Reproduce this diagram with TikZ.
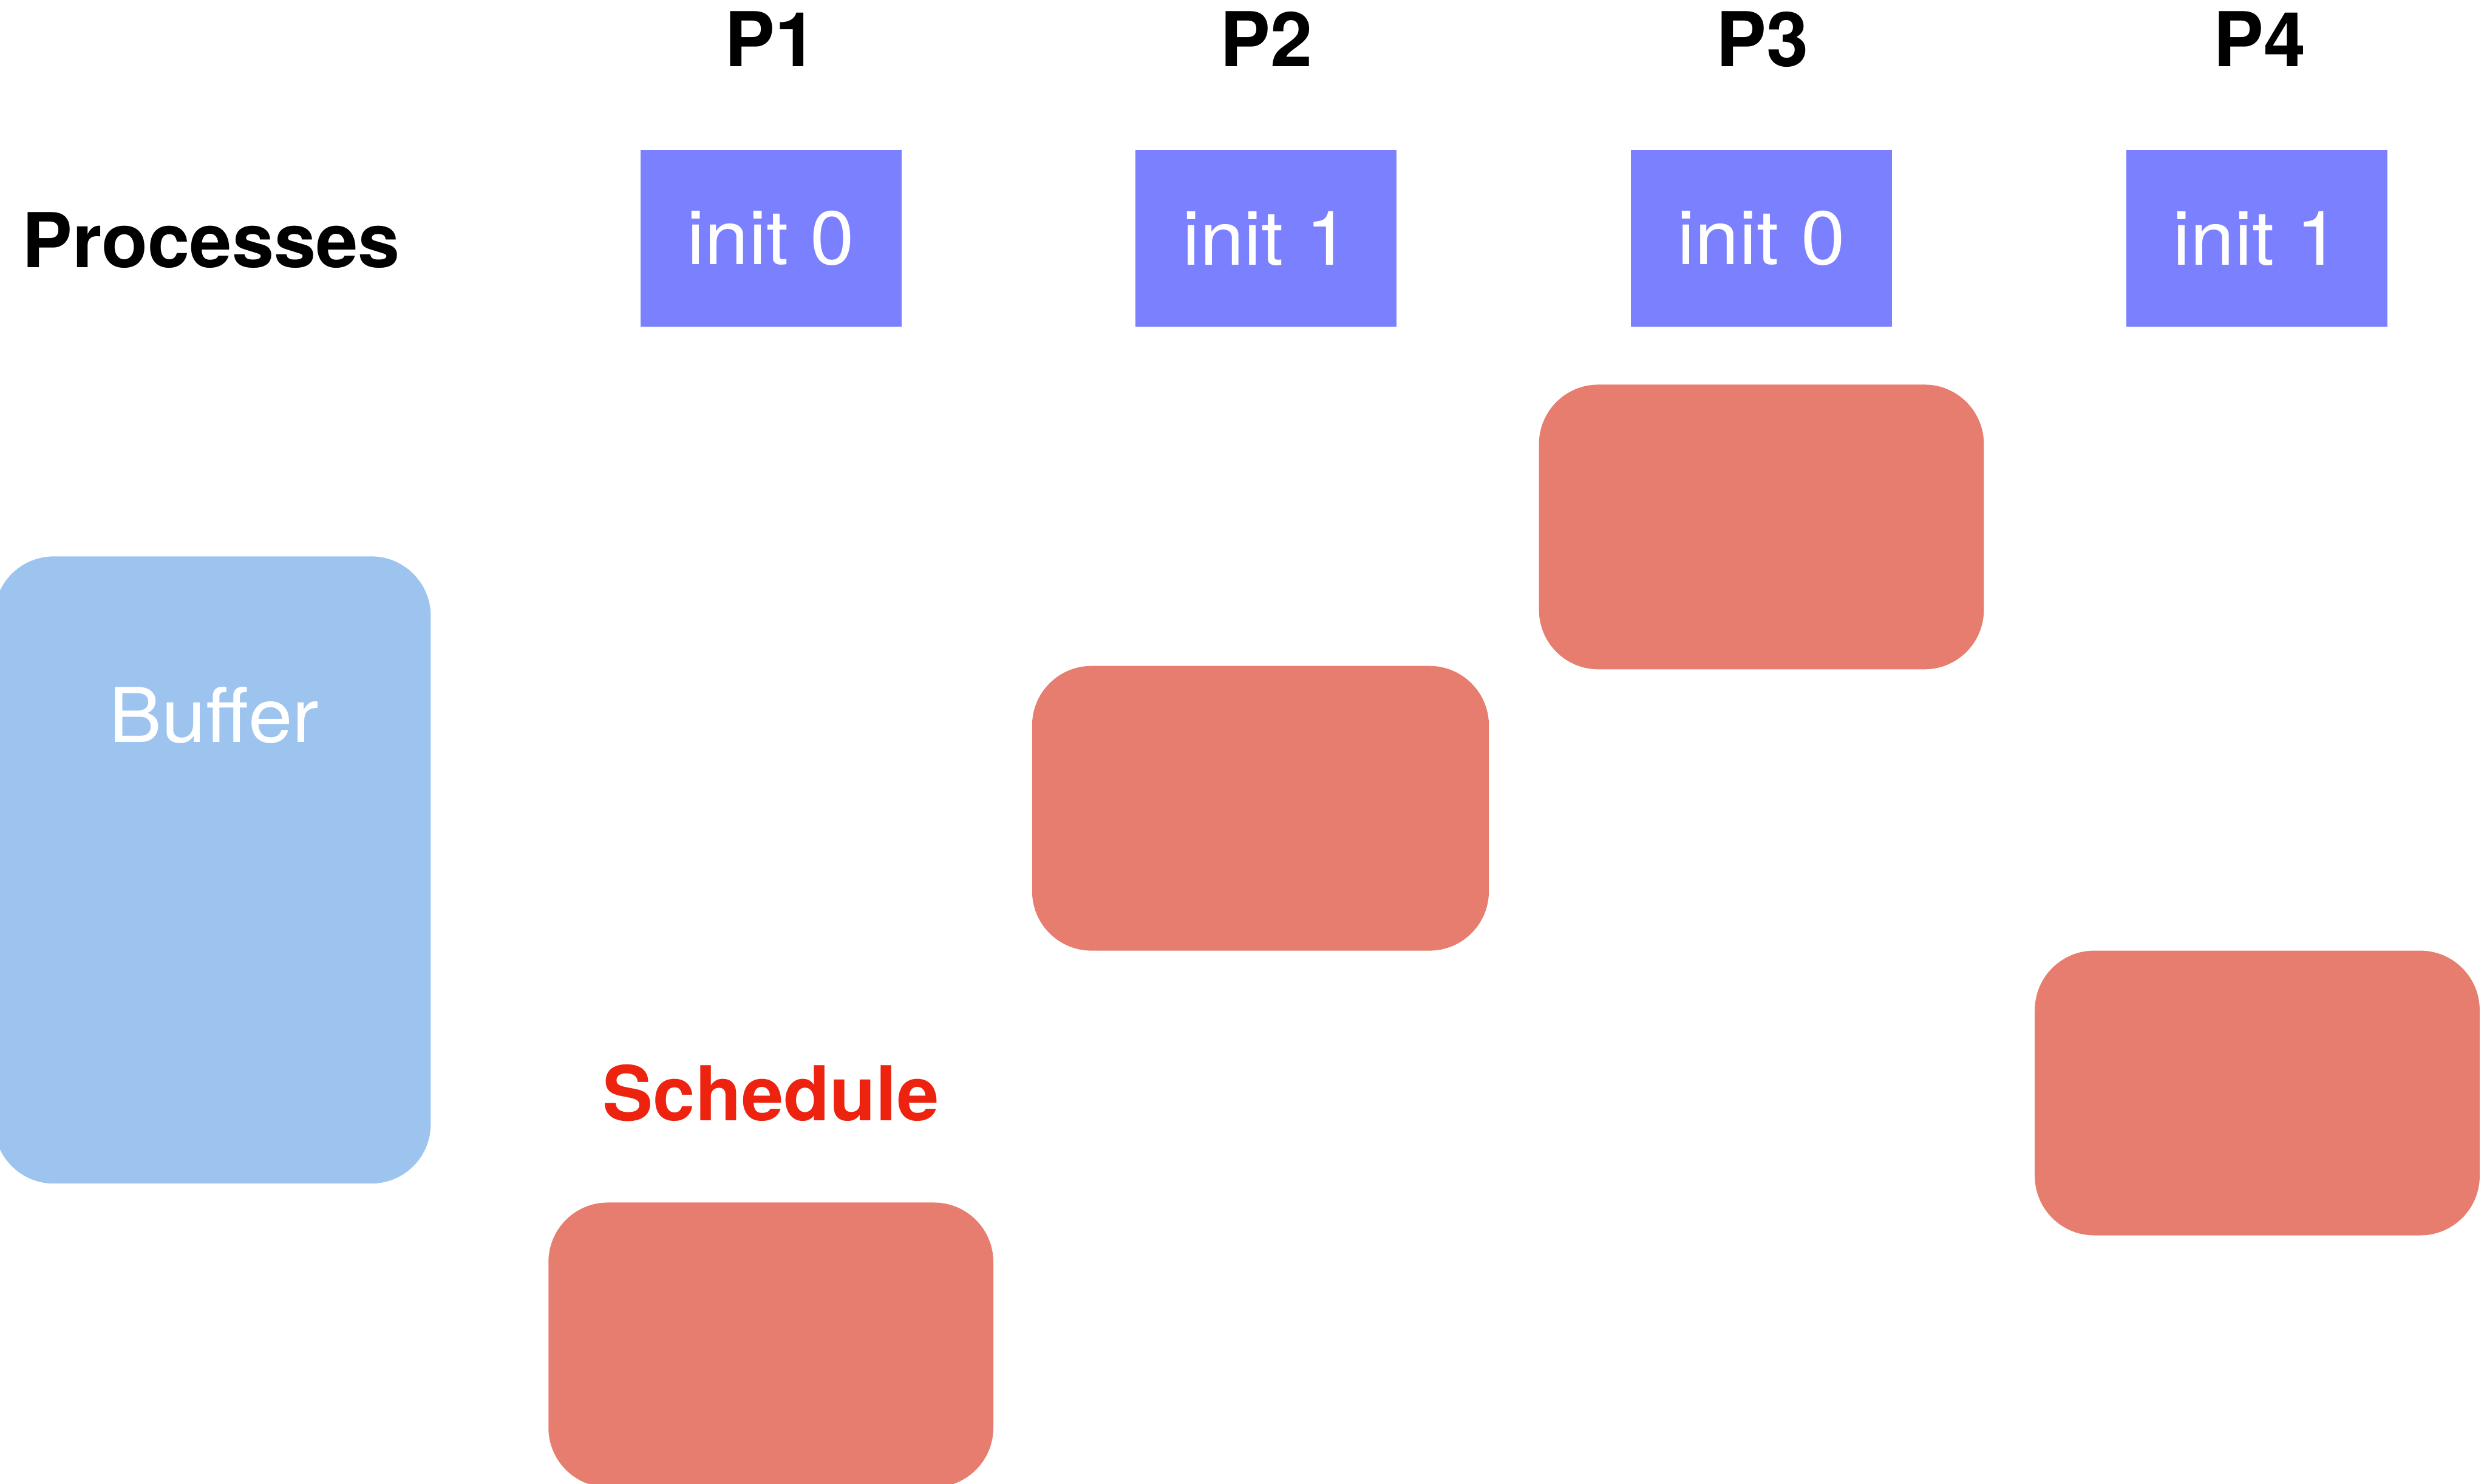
\documentclass[tikz,border=0pt]{standalone}
\usepackage{fontspec}
\setmainfont{TeX Gyre Heros}
\newfontfamily\widefont[FakeStretch=1.05]{TeX Gyre Heros}
\usepackage{tikz}
\newcommand{\procfont}{\fontsize{38}{46}\selectfont}
\definecolor{procblue}{RGB}{123,128,255}
\definecolor{bufblue}{RGB}{157,196,239}
\definecolor{slotred}{RGB}{230,125,110}
\definecolor{schedred}{RGB}{237,34,15}
\tikzstyle{header}=[anchor=base,inner sep=0pt,font=\procfont\bfseries]
\tikzstyle{procbox}=[rectangle,fill=procblue,text=white,inner sep=0pt,
                     minimum width=4.61cm,minimum height=3.12cm,
                     font=\procfont\widefont]
\tikzstyle{bufbox}=[rectangle,rounded corners=1.05cm,fill=bufblue,inner sep=0pt,
                    minimum width=7.71cm,minimum height=11.08cm]
\tikzstyle{slot}=[rectangle,rounded corners=1.05cm,fill=slotred,inner sep=0pt,
                  minimum width=7.86cm,minimum height=5.03cm]

\begin{document}
\begin{tikzpicture}
    \useasboundingbox (0,0) rectangle (43.94,-26.21);
    % one column per process
    \node (h1) at (13.62,-1.18) [header]{P1};
    \node (h2) at (22.37,-1.18) [header]{P2};
    \node (h3) at (31.14,-1.18) [header]{P3};
    \node (h4) at (39.92,-1.18) [header]{P4};
    \node (procs) at (0.38,-4.73) [anchor=base west,inner sep=0pt,
                                   font=\procfont\bfseries]{Processes};
    \node (init1) at (13.62,-4.21) [procbox]{init 0};
    \node (init2) at (22.37,-4.21) [procbox]{init 1};
    \node (init3) at (31.12,-4.21) [procbox]{init 0};
    \node (init4) at (39.87,-4.21) [procbox]{init 1};
    % shared buffer on the left
    \node (buffer) at (3.755,-15.37) [bufbox]{};
    \node (buftext) at (3.78,-13.11) [anchor=base,inner sep=0pt,text=white,
                                      font=\procfont\widefont]{Buffer};
    % time slots
    \node (slot1) at (13.62,-23.76) [slot]{};
    \node (slot2) at (22.27,-14.28) [slot,minimum width=8.07cm]{};
    \node (slot3) at (31.12,-9.31) [slot]{};
    \node (slot4) at (39.88,-19.31) [slot]{};
    \node (sched) at (13.62,-19.80) [anchor=base,inner sep=0pt,text=schedred,
                                     font=\procfont\bfseries]{Schedule};
\end{tikzpicture}
\end{document}
